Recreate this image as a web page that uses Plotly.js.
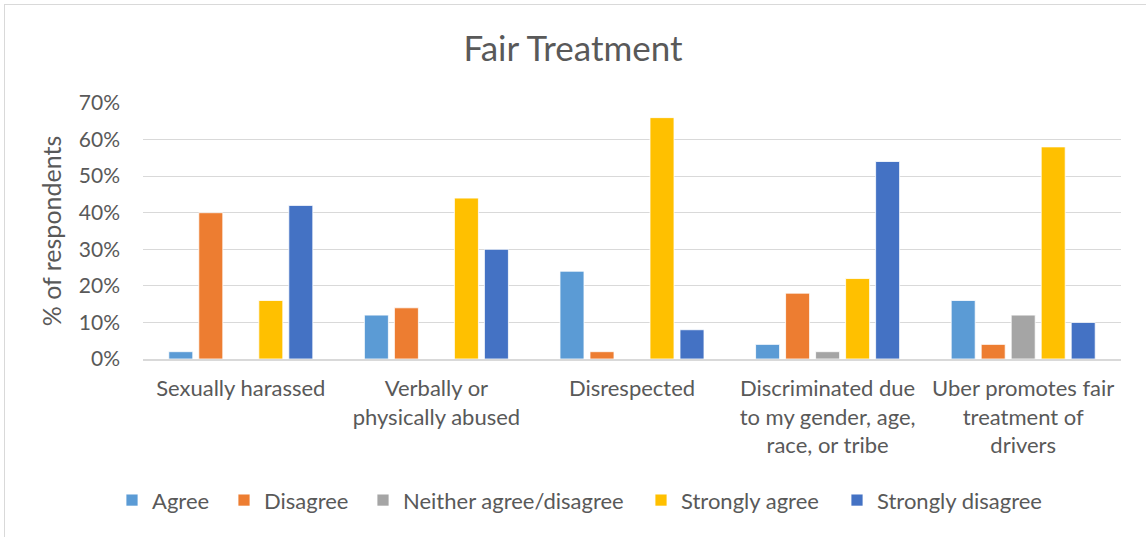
<!DOCTYPE html>
<html>
<head>
<meta charset="utf-8">
<script src="https://cdn.plot.ly/plotly-3.0.1.min.js"></script>
<style>
  html, body { margin: 0; padding: 0; background: #fff; }
  #frame { position: absolute; left: 4px; top: 4px; width: 1200px; height: 600px;
           border-left: 1px solid #d9d9d9; border-top: 1px solid #d9d9d9; }
  #chart { position: absolute; left: 0; top: 0; width: 1146px; height: 537px; }
</style>
</head>
<body>
<div id="frame"></div>
<div id="chart"></div>
<script>
// Survey statements (category axis)
const categories = [
  "Sexually harassed",
  "Verbally or<br>physically abused",
  "Disrespected",
  "Discriminated due<br>to my gender, age,<br>race, or tribe",
  "Uber promotes fair<br>treatment of<br>drivers"
];

// Share of respondents per answer, one array per response option
const agree             = [0.02, 0.12, 0.24, 0.04, 0.16];
const disagree          = [0.40, 0.14, 0.02, 0.18, 0.04];
const neither           = [0.00, 0.00, 0.00, 0.02, 0.12];
const stronglyAgree     = [0.16, 0.44, 0.66, 0.22, 0.58];
const stronglyDisagree  = [0.42, 0.30, 0.08, 0.54, 0.10];

const seriesNames  = ["Agree", "Disagree", "Neither agree/disagree", "Strongly agree", "Strongly disagree"];
const seriesValues = [agree, disagree, neither, stronglyAgree, stronglyDisagree];
const seriesColors = ["#5B9BD5", "#ED7D31", "#A5A5A5", "#FFC000", "#4472C4"];

const FONT = "Lato, 'Open Sans', sans-serif";
const TEXT = "#595959";

// Plot area in pixels (used to place the legend entries along the bottom)
const PLOT_LEFT = 143, PLOT_WIDTH = 978;
const legendLeftPx = [112, 224, 363, 641, 837];
const legendIds = ["legend", "legend2", "legend3", "legend4", "legend5"];

const traces = seriesNames.map((name, i) => ({
  type: "bar",
  name: name,
  x: categories,
  y: seriesValues[i],
  legend: legendIds[i],
  marker: { color: seriesColors[i], line: { color: "#ffffff", width: 0.8 } },
  hoverinfo: "name+y"
}));

const layout = {
  width: 1146,
  height: 537,
  paper_bgcolor: "rgba(0,0,0,0)",
  plot_bgcolor: "rgba(0,0,0,0)",
  margin: { l: 143, r: 25, t: 103, b: 178 },
  barmode: "group",
  bargap: 0.233,
  bargroupgap: 0.2,
  font: { family: FONT, color: TEXT, size: 22 },
  title: {
    text: "Fair Treatment",
    font: { family: FONT, color: TEXT, size: 35 },
    x: 0.5, xanchor: "center",
    y: 0.91, yanchor: "middle"
  },
  xaxis: {
    type: "category",
    tickfont: { family: FONT, color: TEXT, size: 22 },
    showgrid: false,
    showline: true,
    linecolor: "#d9d9d9",
    linewidth: 1.5,
    ticks: "",
    ticklabelstandoff: 9
  },
  yaxis: {
    range: [0, 0.7],
    dtick: 0.1,
    tickformat: ".0%",
    tickfont: { family: FONT, color: TEXT, size: 21 },
    gridcolor: "#d9d9d9",
    gridwidth: 1,
    zeroline: false,
    showline: false,
    ticks: "",
    ticklabelstandoff: 22,
    title: {
      text: "% of respondents",
      font: { family: FONT, color: TEXT, size: 25 },
      standoff: 10
    }
  },
  showlegend: true
};

// one single-entry legend per series so each entry sits at its own spot
legendIds.forEach((id, i) => {
  layout[id] = {
    orientation: "h",
    x: (legendLeftPx[i] - PLOT_LEFT) / PLOT_WIDTH, xanchor: "left",
    y: -0.552, yanchor: "middle",
    font: { family: FONT, color: TEXT, size: 22 },
    itemwidth: 30,
    bgcolor: "rgba(0,0,0,0)"
  };
});

Plotly.newPlot("chart", traces, layout, { displayModeBar: false, staticPlot: true });
</script>
</body>
</html>
